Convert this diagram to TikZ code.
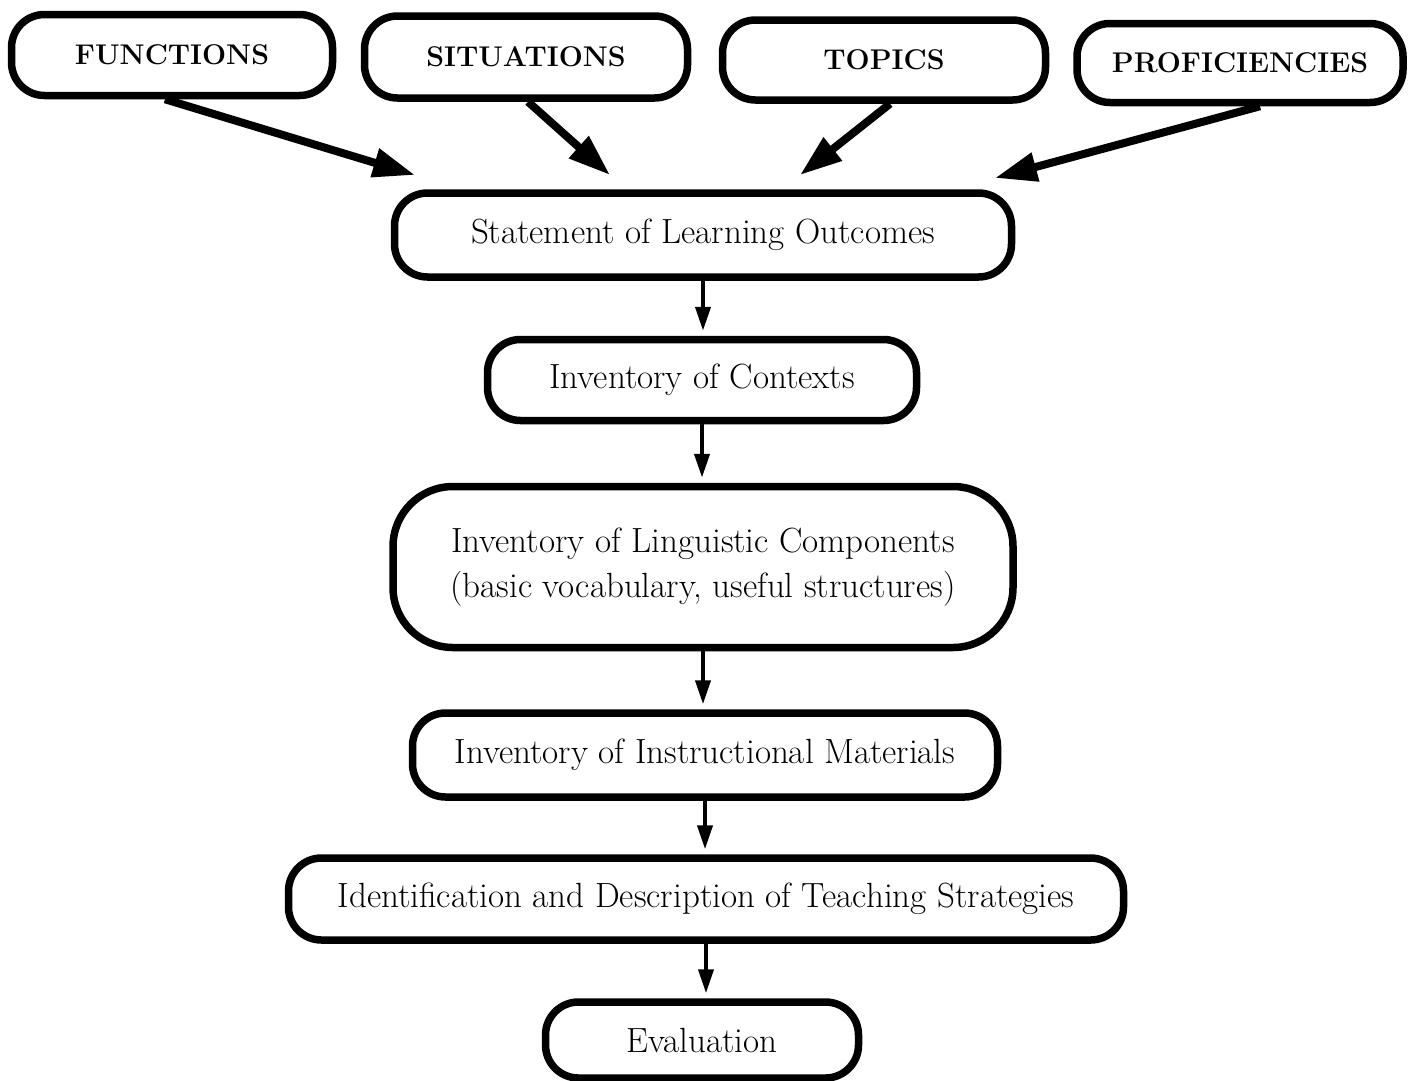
\documentclass[tikz,border=0pt]{standalone}
\usetikzlibrary{arrows.meta}
\begin{document}
\begin{tikzpicture}[x=1pt,y=-1pt,
  box/.style={draw=black,line width=7.5pt,rounded corners=33pt,fill=white,
    inner sep=0pt,align=center},
  toplabel/.style={font=\fontsize{28.5}{32}\selectfont\bfseries},
  bodylabel/.style={font=\fontsize{35}{45}\selectfont},
  bigarrow/.style={line width=8pt,-{Triangle[length=42pt,width=28pt]}},
  smallarrow/.style={line width=4pt,-{Triangle[length=24pt,width=15pt]},shorten >=5pt}
]
\useasboundingbox (0,0) rectangle (1412,1080);
\fill[white] (0,0) rectangle (1412,1080);

\node[box,toplabel,minimum width=321pt,minimum height=81pt] (fun) at (172,55) {FUNCTIONS};
\node[box,toplabel,minimum width=323pt,minimum height=82pt] (sit) at (526,57) {SITUATIONS};
\node[box,toplabel,minimum width=323pt,minimum height=80pt] (top) at (884,60) {TOPICS};
\node[box,toplabel,minimum width=326pt,minimum height=79pt] (pro) at (1240,63) {PROFICIENCIES};

\node[box,bodylabel,minimum width=617pt,minimum height=84pt] (stm) at (703,235) {Statement of Learning Outcomes};
\node[box,bodylabel,minimum width=429pt,minimum height=81pt] (ctx) at (702,380) {Inventory of Contexts};
\node[box,bodylabel,minimum width=620pt,minimum height=161pt,rounded corners=60pt] (lin) at (703,567) {Inventory of Linguistic Components\\(basic vocabulary, useful structures)};
\node[box,bodylabel,minimum width=585pt,minimum height=84pt] (mat) at (705,755) {Inventory of Instructional Materials};
\node[box,bodylabel,minimum width=835pt,minimum height=82pt] (str) at (706,899) {Identification and Description of Teaching Strategies};
\node[box,bodylabel,minimum width=313pt,minimum height=76pt] (eva) at (702,1040) {Evaluation};

\coordinate (t1) at (415,175);
\coordinate (t2) at (610,175);
\coordinate (t3) at (800,175);
\coordinate (t4) at (995,178);

\draw[bigarrow] ([xshift=-7pt]fun.south) -- (t1);
\draw[bigarrow] ([xshift=2pt]sit.south) -- (t2);
\draw[bigarrow] ([xshift=6pt]top.south) -- (t3);
\draw[bigarrow] ([xshift=20pt]pro.south) -- (t4);

\draw[smallarrow] (stm.south) -- (stm.south |- ctx.north);
\draw[smallarrow] (ctx.south) -- (ctx.south |- lin.north);
\draw[smallarrow] (lin.south) -- (lin.south |- mat.north);
\draw[smallarrow] (mat.south) -- (mat.south |- str.north);
\draw[smallarrow] (str.south) -- (str.south |- eva.north);
\end{tikzpicture}
\end{document}
